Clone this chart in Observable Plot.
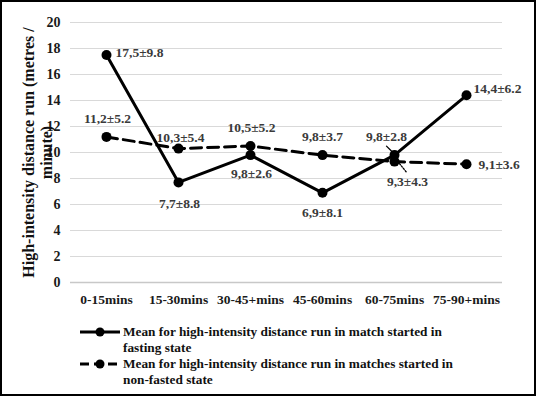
<!DOCTYPE html>
<html>
<head>
<meta charset="utf-8">
<script src="https://cdn.jsdelivr.net/npm/d3@7"></script>
<script src="https://cdn.jsdelivr.net/npm/@observablehq/plot@0.6"></script>
<style>
  html, body { margin: 0; padding: 0; background: #fff; }
  #wrap { position: relative; width: 536px; height: 396px; overflow: hidden; background: #fff;
          font-family: "Liberation Serif", "Times New Roman", serif; }
  #border { position: absolute; left: 0; top: 0; right: 0; bottom: 0; border: 2px solid #000; pointer-events: none; box-sizing: border-box; }
  #chart { position: absolute; left: 0; top: 0; }
  #legend { position: absolute; left: 80px; top: 324px; font-size: 13.3px; font-weight: bold; color: #111; line-height: 16px; }
  .item { display: flex; align-items: flex-start; }
  .item svg { flex: none; margin-right: 3px; }
</style>
</head>
<body>
<div id="wrap">
  <div id="chart"></div>
  <div id="legend"></div>
  <div id="border"></div>
</div>
<script>
const categories = ["0-15mins", "15-30mins", "30-45+mins", "45-60mins", "60-75mins", "75-90+mins"];
const fastingMean = [17.5, 7.7, 9.8, 6.9, 9.8, 14.4];
const fastingLabels = ["17,5±9.8", "7,7±8.8", "9,8±2.6", "6,9±8.1", "9,8±2.8", "14,4±6.2"];
const nonFastedMean = [11.2, 10.3, 10.5, 9.8, 9.3, 9.1];
const nonFastedLabels = ["11,2±5.2", "10,3±5.4", "10,5±5.2", "9,8±3.7", "9,3±4.3", "9,1±3.6"];
const yTicks = [0, 2, 4, 6, 8, 10, 12, 14, 16, 18, 20];
const yTitle = "High-intensity distance run (metres /\nminute)";
const seriesNames = [
  "Mean for high-intensity distance run in match started in<br>fasting state",
  "Mean for high-intensity distance run in matches started in<br>non-fasted state"
];

const fasting = categories.map((c, i) => ({cat: c, v: fastingMean[i], label: fastingLabels[i]}));
const nonFasted = categories.map((c, i) => ({cat: c, v: nonFastedMean[i], label: nonFastedLabels[i]}));

const SERIF = "'Liberation Serif', 'Times New Roman', serif";

// label placement (pixel offsets relative to each point)
const fastingPlace = [
  {dx: 9, dy: -2, anchor: "start"},
  {dx: 1, dy: 21, anchor: "middle"},
  {dx: 1, dy: 19, anchor: "middle"},
  {dx: 0, dy: 20, anchor: "middle"},
  {dx: -8, dy: -18, anchor: "middle"},
  {dx: 7, dy: -7, anchor: "start"}
];
const nonFastedPlace = [
  {dx: 1, dy: -18, anchor: "middle"},
  {dx: 2, dy: -11, anchor: "middle"},
  {dx: 1, dy: -18, anchor: "middle"},
  {dx: 0, dy: -18, anchor: "middle"},
  {dx: 13, dy: 20, anchor: "middle"},
  {dx: 12, dy: 0, anchor: "start"}
];

function labelMarks(rows, place) {
  return place.map((p, k) => Plot.text(rows, {
    filter: (d, i) => i === k,
    x: "cat", y: "v", text: "label",
    dx: p.dx, dy: p.dy, textAnchor: p.anchor, lineAnchor: "middle",
    fontSize: 13.5, fontWeight: "bold", fontFamily: SERIF, fill: "#3a3a3a"
  }));
}

const segment = {draw(context, l) { context.moveTo(0, 0); context.lineTo(0, -l); }};

const chart = Plot.plot({
  width: 536,
  height: 318,
  marginLeft: 70,
  marginRight: 34,
  marginTop: 22,
  marginBottom: 36,
  style: {fontFamily: SERIF, fontWeight: "bold", color: "#1a1a1a", background: "transparent"},
  x: {type: "point", domain: categories, padding: 0.5, label: null},
  y: {domain: [0, 20], label: null},
  marks: [
    Plot.gridY(yTicks, {stroke: "#d9d9d9", strokeOpacity: 1, strokeWidth: 1}),
    Plot.ruleY([0], {stroke: "#c8c8c8", strokeWidth: 1.5}),
    Plot.axisY(yTicks, {tickSize: 0, tickPadding: 10, fontSize: 14, fontWeight: "bold", fontFamily: SERIF}),
    Plot.axisX({tickSize: 0, tickPadding: 12, fontSize: 13.5, fontWeight: "bold", fontFamily: SERIF}),
    Plot.text([yTitle], {frameAnchor: "left", dx: -33, rotate: -90, textAnchor: "middle", lineAnchor: "middle",
      lineHeight: 1.08, fontSize: 16, fontWeight: "bold", fontFamily: SERIF, fill: "#111"}),
    Plot.line(nonFasted, {x: "cat", y: "v", stroke: "#000", strokeWidth: 3, strokeDasharray: "11,6"}),
    Plot.dot(nonFasted, {x: "cat", y: "v", r: 5, fill: "#000"}),
    Plot.line(fasting, {x: "cat", y: "v", stroke: "#000", strokeWidth: 3}),
    Plot.dot(fasting, {x: "cat", y: "v", r: 5, fill: "#000"}),
    // leader lines for the crowded 60-75mins labels
    Plot.vector(fasting, {filter: (d, i) => i === 4, x: "cat", y: "v", anchor: "start", shape: segment,
      length: 8, rotate: 135, dx: -8, dy: -9, stroke: "#000", strokeWidth: 1.3}),
    Plot.vector(nonFasted, {filter: (d, i) => i === 4, x: "cat", y: "v", anchor: "start", shape: segment,
      length: 12, rotate: 141, dx: 5, dy: 2, stroke: "#000", strokeWidth: 1.3, strokeDasharray: "1.5,1.5"}),
    ...labelMarks(fasting, fastingPlace),
    ...labelMarks(nonFasted, nonFastedPlace)
  ]
});
document.getElementById("chart").appendChild(chart);

const legend = document.getElementById("legend");
const dashes = [null, "9,5"];
seriesNames.forEach((name, i) => {
  const item = document.createElement("div");
  item.className = "item";
  const dash = dashes[i] ? `stroke-dasharray="${dashes[i]}"` : "";
  item.innerHTML = `<svg width="40" height="16"><line x1="0" x2="40" y1="8" y2="8" stroke="#000" stroke-width="3" ${dash}/>` +
    `<circle cx="20" cy="8" r="4.5" fill="#000"/></svg><div>${name}</div>`;
  legend.appendChild(item);
});
</script>
</body>
</html>
